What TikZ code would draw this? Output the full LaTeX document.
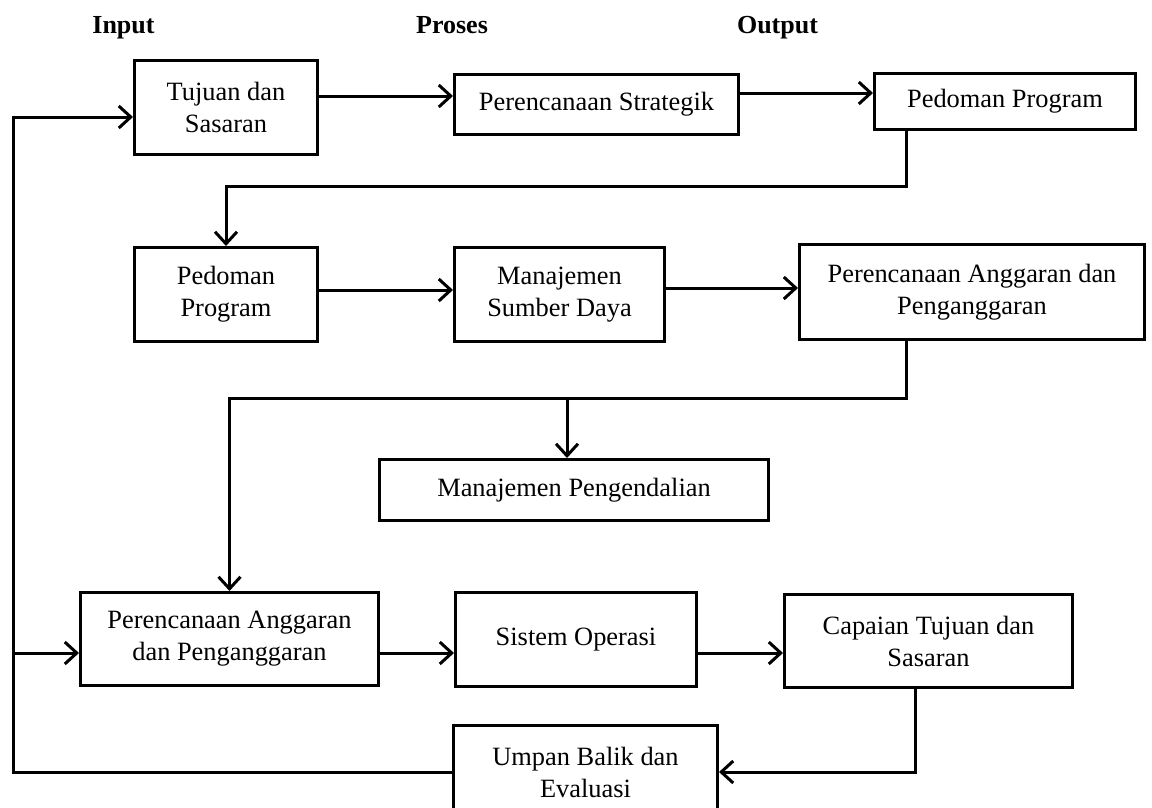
\documentclass[tikz,border=0pt]{standalone}
\usepackage{fontspec}
\setmainfont{Liberation Serif}
\usetikzlibrary{
    arrows.meta,             % For the open arrow tips
    positioning              % For relative placement of nodes
}

\begin{document}
\begin{tikzpicture}[
    x=1pt, y=-1pt,
    font=\fontsize{26.4}{32}\selectfont,
    box/.style={draw, line width=3pt, inner sep=0pt, align=center},
    link/.style={line width=3pt, -{Straight Barb[length=12pt, width=22pt]}},
    heading/.style={anchor=base, font=\fontsize{26}{30}\selectfont\bfseries}
]
    \useasboundingbox (0,0) rectangle (1152,807);

    % --- Column headings ---
    \node[heading] (h_input)  at (123.5,33) {Input};
    \node[heading] (h_proses) at (452,33)   {Proses};
    \node[heading] (h_output) at (777.5,33) {Output};

    % --- First row ---
    \node[box, minimum width=183pt, minimum height=94pt] (tujuan) at (226,107.5) {Tujuan dan\\Sasaran};
    \node[box, minimum width=284pt, minimum height=60pt] (strategik) at (596.5,104.5) {Perencanaan Strategik};
    \node[box, minimum width=261pt, minimum height=56pt] (pedomanA) at (1005,101.5) {Pedoman Program};

    % --- Second row ---
    \node[box, minimum width=183pt, minimum height=94pt] (pedomanB) at (226,294.5) {Pedoman\\Program};
    \node[box, minimum width=210pt, minimum height=94pt] (sumberdaya) at (559.5,294.5) {Manajemen\\Sumber Daya};
    \node[box, minimum width=345pt, minimum height=95pt] (anggaranA) at (972,292) {Perencanaan Anggaran dan\\Penganggaran};

    % --- Control box ---
    \node[box, minimum width=389pt, minimum height=61pt] (pengendalian) at (574,490) {Manajemen Pengendalian};

    % --- Third row ---
    \node[box, minimum width=298pt, minimum height=93pt] (anggaranB) at (229.5,639) {Perencanaan Anggaran\\dan Penganggaran};
    \node[box, minimum width=241pt, minimum height=94pt] (operasi) at (576,639.5) {Sistem Operasi};
    \node[box, minimum width=288pt, minimum height=93pt] (capaian) at (928.5,641) {Capaian Tujuan dan\\Sasaran};

    % --- Feedback box (runs past the lower edge) ---
    \node[box, minimum width=264pt, minimum height=94pt] (umpan) at (585.5,772) {Umpan Balik dan\\Evaluasi};

    % --- Connectors ---
    \coordinate (bend1) at (0,186);
    \coordinate (bend2) at (0,398);
    \coordinate (rail) at (13,117);
    \coordinate (tap) at ([xshift=-7pt]pengendalian.north);
    \coordinate (inB) at ([yshift=-14pt]anggaranB.west);

    \draw[link] ([yshift=11.5pt]tujuan.east) -- ([yshift=8.5pt]strategik.west);
    \draw[link] ([yshift=11.5pt]strategik.east) -- ([yshift=8.5pt]pedomanA.west);
    \draw[link] ([xshift=-99pt]pedomanA.south) |- (pedomanB.north |- bend1) -- (pedomanB.north);

    \draw[link] ([yshift=4.5pt]pedomanB.east) -- ([yshift=4.5pt]sumberdaya.west);
    \draw[link] ([yshift=6.5pt]sumberdaya.east) -- ([yshift=4pt]anggaranA.west);
    \draw[link] ([xshift=-66pt]anggaranA.south) |- (anggaranB.north |- bend2) -- (anggaranB.north);
    \draw[link] (tap |- bend2) -- (tap);

    \draw[link] ([yshift=-14pt]anggaranB.east) -- ([yshift=-13.5pt]operasi.west);
    \draw[link] ([yshift=-13.5pt]operasi.east) -- ([yshift=-12pt]capaian.west);
    \draw[link] ([xshift=-13.5pt]capaian.south) |- (umpan.east);

    % --- Feedback loop ---
    \draw[link] (umpan.west) -| (rail) -- ([yshift=-9.5pt]tujuan.west);
    \draw[link] (inB -| rail) -- (inB);
\end{tikzpicture}
\end{document}
